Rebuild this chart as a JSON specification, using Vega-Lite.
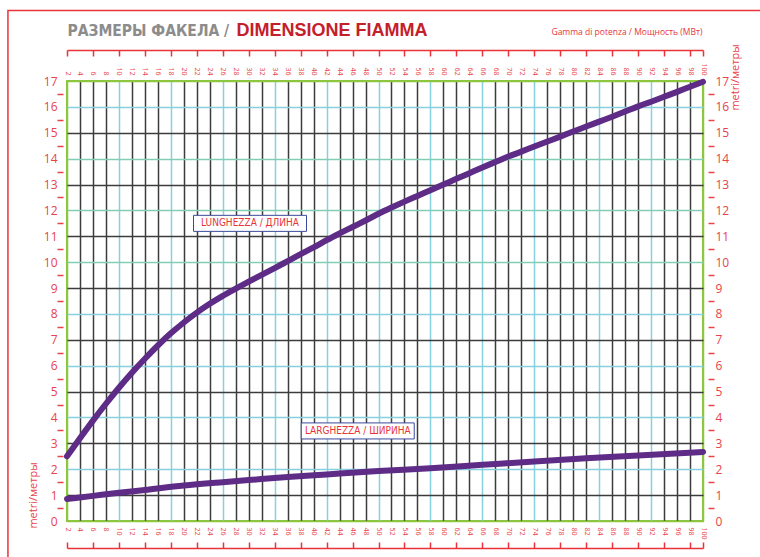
{
  "$schema": "https://vega.github.io/schema/vega-lite/v6.json",
  "width": 636,
  "height": 440,
  "autosize": {"type": "none"},
  "padding": {"left": 67, "top": 81, "right": 57, "bottom": 36},
  "background": "white",
  "config": {
    "view": {"stroke": "#8dc63f", "strokeWidth": 2},
    "axis": {"labelFont": "Open Sans", "titleFont": "Open Sans", "labelColor": "#e8434a", "titleColor": "#e8434a"}
  },
  "datasets": {
    "curves": [
      {"serie": "length", "power": 2, "metres": 2.5},
      {"serie": "length", "power": 4, "metres": 3.2},
      {"serie": "length", "power": 6, "metres": 3.88},
      {"serie": "length", "power": 8, "metres": 4.53},
      {"serie": "length", "power": 10, "metres": 5.15},
      {"serie": "length", "power": 12, "metres": 5.73},
      {"serie": "length", "power": 14, "metres": 6.27},
      {"serie": "length", "power": 16, "metres": 6.78},
      {"serie": "length", "power": 18, "metres": 7.25},
      {"serie": "length", "power": 20, "metres": 7.67},
      {"serie": "length", "power": 22, "metres": 8.05},
      {"serie": "length", "power": 24, "metres": 8.39},
      {"serie": "length", "power": 26, "metres": 8.7},
      {"serie": "length", "power": 28, "metres": 8.98},
      {"serie": "length", "power": 30, "metres": 9.25},
      {"serie": "length", "power": 32, "metres": 9.51},
      {"serie": "length", "power": 34, "metres": 9.77},
      {"serie": "length", "power": 36, "metres": 10.04},
      {"serie": "length", "power": 38, "metres": 10.31},
      {"serie": "length", "power": 40, "metres": 10.57},
      {"serie": "length", "power": 42, "metres": 10.85},
      {"serie": "length", "power": 44, "metres": 11.11},
      {"serie": "length", "power": 46, "metres": 11.36},
      {"serie": "length", "power": 48, "metres": 11.61},
      {"serie": "length", "power": 50, "metres": 11.87},
      {"serie": "length", "power": 52, "metres": 12.11},
      {"serie": "length", "power": 54, "metres": 12.34},
      {"serie": "length", "power": 56, "metres": 12.56},
      {"serie": "length", "power": 58, "metres": 12.78},
      {"serie": "length", "power": 60, "metres": 13.0},
      {"serie": "length", "power": 62, "metres": 13.22},
      {"serie": "length", "power": 64, "metres": 13.44},
      {"serie": "length", "power": 66, "metres": 13.66},
      {"serie": "length", "power": 68, "metres": 13.87},
      {"serie": "length", "power": 70, "metres": 14.08},
      {"serie": "length", "power": 72, "metres": 14.27},
      {"serie": "length", "power": 74, "metres": 14.47},
      {"serie": "length", "power": 76, "metres": 14.66},
      {"serie": "length", "power": 78, "metres": 14.85},
      {"serie": "length", "power": 80, "metres": 15.05},
      {"serie": "length", "power": 82, "metres": 15.24},
      {"serie": "length", "power": 84, "metres": 15.43},
      {"serie": "length", "power": 86, "metres": 15.62},
      {"serie": "length", "power": 88, "metres": 15.82},
      {"serie": "length", "power": 90, "metres": 16.02},
      {"serie": "length", "power": 92, "metres": 16.2},
      {"serie": "length", "power": 94, "metres": 16.39},
      {"serie": "length", "power": 96, "metres": 16.58},
      {"serie": "length", "power": 98, "metres": 16.78},
      {"serie": "length", "power": 100, "metres": 16.97}
    ],
    "widths": [
      {"serie": "width", "power": 2, "metres": 0.85},
      {"serie": "width", "power": 6, "metres": 0.97},
      {"serie": "width", "power": 10, "metres": 1.09},
      {"serie": "width", "power": 14, "metres": 1.2},
      {"serie": "width", "power": 20, "metres": 1.37},
      {"serie": "width", "power": 26, "metres": 1.5},
      {"serie": "width", "power": 30, "metres": 1.58},
      {"serie": "width", "power": 36, "metres": 1.7},
      {"serie": "width", "power": 42, "metres": 1.8},
      {"serie": "width", "power": 50, "metres": 1.93},
      {"serie": "width", "power": 58, "metres": 2.04},
      {"serie": "width", "power": 66, "metres": 2.17},
      {"serie": "width", "power": 74, "metres": 2.3},
      {"serie": "width", "power": 82, "metres": 2.42},
      {"serie": "width", "power": 90, "metres": 2.53},
      {"serie": "width", "power": 100, "metres": 2.67}
    ],
    "notes": [
      {"label": "LUNGHEZZA / ДЛИНА", "ax": 30.2, "ay": 11.5},
      {"label": "LARGHEZZA / ШИРИНА", "ax": 46.8, "ay": 3.48}
    ]
  },
  "layer": [
    {
      "data": {"name": "curves"},
      "mark": {"type": "line", "color": "#5e2c86", "strokeWidth": 6, "strokeCap": "round", "interpolate": "monotone"},
      "encoding": {
        "x": {
          "field": "power", "type": "quantitative",
          "scale": {"domain": [2, 100], "nice": false, "zero": false},
          "axis": {
            "orient": "top",
            "values": [2,4,6,8,10,12,14,16,18,20,22,24,26,28,30,32,34,36,38,40,42,44,46,48,50,52,54,56,58,60,62,64,66,68,70,72,74,76,78,80,82,84,86,88,90,92,94,96,98,100],
            "labelAngle": 90, "labelFontSize": 7, "labelPadding": 6, "labelFlush": false, "labelOverlap": false,
            "ticks": false, "domain": false, "grid": true, "gridWidth": 1.5,
            "gridColor": {"condition": [
              {"test": "datum.value == 2 || datum.value == 100", "value": "#8dc63f"},
              {"test": "indexof([10,18,26,34,42,50,58,66,74,84,92], datum.value) >= 0", "value": "#86d0e0"}
            ], "value": "#3c3c3c"},
            "title": "РАЗМЕРЫ ФАКЕЛА /",
            "titleX": 0, "titleY": -46, "titleAlign": "left", "titleBaseline": "alphabetic", "titleAngle": 0,
            "titleFont": "DejaVu Sans Condensed", "titleFontSize": 15.5, "titleFontWeight": "bold", "titleColor": "#8c8c8c"
          }
        },
        "y": {
          "field": "metres", "type": "quantitative",
          "scale": {"domain": [0, 17], "nice": false, "zero": false},
          "axis": {
            "orient": "left",
            "values": [0,1,2,3,4,5,6,7,8,9,10,11,12,13,14,15,16,17],
            "labelFontSize": 12, "labelPadding": 10, "labelFlush": false, "labelOverlap": false,
            "ticks": false, "domain": false, "grid": true, "gridWidth": 1.5,
            "gridColor": {"condition": [
              {"test": "datum.value == 0 || datum.value == 17", "value": "#8dc63f"},
              {"test": "datum.value == 10 || datum.value == 12 || datum.value == 14", "value": "#82ceb4"},
              {"test": "datum.value % 2 == 0", "value": "#86d0e0"}
            ], "value": "#3c3c3c"},
            "title": "metri/метры",
            "titleX": -34, "titleY": 414, "titleAngle": 270, "titleAlign": "center", "titleBaseline": "middle",
            "titleFontSize": 11, "titleFontWeight": "normal"
          }
        }
      }
    },
    {
      "data": {"name": "widths"},
      "mark": {"type": "line", "color": "#5e2c86", "strokeWidth": 6, "strokeCap": "round", "interpolate": "monotone"},
      "encoding": {
        "x": {
          "field": "power", "type": "quantitative",
          "scale": {"domain": [2, 100], "nice": false, "zero": false},
          "axis": {
            "orient": "top", "offset": 31,
            "values": [2,6,10,14,18,22,26,30,34,38,42,46,50,54,58,62,66,70,74,78,82,86,90,94,98,100],
            "labels": false, "grid": false,
            "domain": true, "domainColor": "#e8333a", "domainWidth": 1.5,
            "ticks": true, "tickColor": "#e8333a", "tickSize": -6, "tickWidth": 1.5,
            "title": "Gamma di potenza / Мощность (МВт)",
            "titleX": 635, "titleY": -16, "titleAlign": "right", "titleBaseline": "alphabetic", "titleAngle": 0,
            "titleFontSize": 8.5, "titleFontWeight": "normal", "titleColor": "#e8333a"
          }
        },
        "y": {
          "field": "metres", "type": "quantitative",
          "scale": {"domain": [0, 17], "nice": false, "zero": false},
          "axis": {
            "orient": "left", "offset": 4,
            "values": [0.5,1.5,2.5,3.5,4.5,5.5,6.5,7.5,8.5,9.5,10.5,11.5,12.5,13.5,14.5,15.5,16.5],
            "labels": false, "grid": false, "domain": false,
            "ticks": true, "tickColor": "#e8434a", "tickSize": 6, "tickWidth": 1.5,
            "title": null
          }
        }
      }
    },
    {
      "data": {"name": "notes"},
      "mark": {"type": "point", "shape": "M-1,-0.142L1,-0.142L1,0.142L-1,0.142Z", "size": 12769, "filled": false, "fill": "white", "fillOpacity": 1, "stroke": "#3b4a9c", "strokeWidth": 1, "opacity": 1},
      "encoding": {
        "x": {
          "field": "ax", "type": "quantitative",
          "scale": {"domain": [2, 100], "nice": false, "zero": false},
          "axis": {
            "orient": "bottom",
            "values": [2,4,6,8,10,12,14,16,18,20,22,24,26,28,30,32,34,36,38,40,42,44,46,48,50,52,54,56,58,60,62,64,66,68,70,72,74,76,78,80,82,84,86,88,90,92,94,96,98,100],
            "labelAngle": 90, "labelFontSize": 7, "labelPadding": 6, "labelFlush": false, "labelOverlap": false,
            "ticks": false, "domain": false, "grid": false,
            "title": "DIMENSIONE FIAMMA",
            "titleX": 169, "titleY": -486, "titleAlign": "left", "titleBaseline": "alphabetic", "titleAngle": 0,
            "titleFont": "Liberation Sans, Arial, sans-serif", "titleFontSize": 18, "titleFontWeight": "bold", "titleColor": "#c4202b"
          }
        },
        "y": {
          "field": "ay", "type": "quantitative",
          "scale": {"domain": [0, 17], "nice": false, "zero": false},
          "axis": {
            "orient": "right",
            "values": [0,1,2,3,4,5,6,7,8,9,10,11,12,13,14,15,16,17],
            "labelFontSize": 12, "labelPadding": 12, "labelFlush": false, "labelOverlap": false,
            "ticks": false, "domain": false, "grid": false,
            "title": "metri/метры",
            "titleX": 32, "titleY": -4, "titleAngle": 270, "titleAlign": "center", "titleBaseline": "middle",
            "titleFontSize": 11, "titleFontWeight": "normal"
          }
        }
      }
    },
    {
      "data": {"name": "notes"},
      "mark": {"type": "text", "color": "#e8333a", "fontSize": 10, "font": "DejaVu Sans Condensed, Open Sans, sans-serif", "align": "center", "baseline": "middle"},
      "encoding": {
        "text": {"field": "label"},
        "x": {
          "field": "ax", "type": "quantitative",
          "scale": {"domain": [2, 100], "nice": false, "zero": false},
          "axis": {
            "orient": "bottom", "offset": 27,
            "values": [2,6,10,14,18,22,26,30,34,38,42,46,50,54,58,62,66,70,74,78,82,86,90,94,98,100],
            "labels": false, "grid": false,
            "domain": true, "domainColor": "#e8333a", "domainWidth": 1.5,
            "ticks": true, "tickColor": "#e8333a", "tickSize": -6, "tickWidth": 1.5,
            "title": null
          }
        },
        "y": {
          "field": "ay", "type": "quantitative",
          "scale": {"domain": [0, 17], "nice": false, "zero": false},
          "axis": {
            "orient": "right", "offset": 5,
            "values": [0.5,1.5,2.5,3.5,4.5,5.5,6.5,7.5,8.5,9.5,10.5,11.5,12.5,13.5,14.5,15.5,16.5],
            "labels": false, "grid": false, "domain": false,
            "ticks": true, "tickColor": "#e8434a", "tickSize": 6, "tickWidth": 1.5,
            "title": null
          }
        }
      }
    },
    {
      "data": {"values": [{}]},
      "mark": {"type": "rect", "fill": null, "stroke": "#e8333a", "strokeWidth": 1.5, "clip": false},
      "encoding": {
        "x": {"datum": -7.1, "type": "quantitative", "scale": {"domain": [2, 100], "nice": false, "zero": false}, "axis": null},
        "x2": {"datum": 130},
        "y": {"datum": 19.72, "type": "quantitative", "scale": {"domain": [0, 17], "nice": false, "zero": false}, "axis": null},
        "y2": {"datum": -5}
      }
    }
  ],
  "resolve": {"axis": {"x": "independent", "y": "independent"}}
}
